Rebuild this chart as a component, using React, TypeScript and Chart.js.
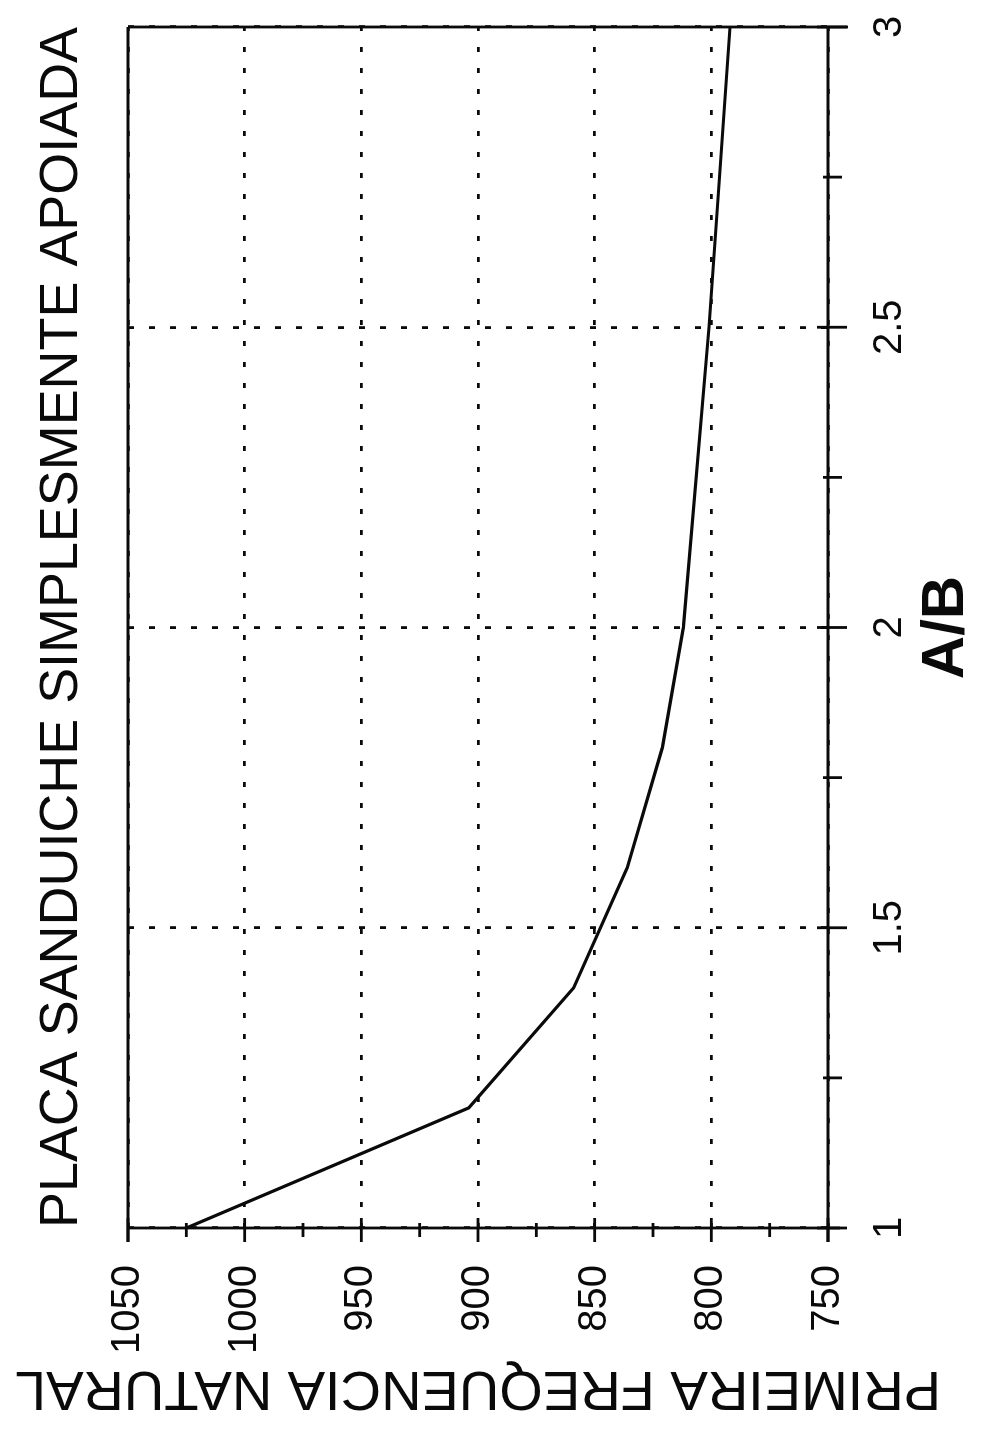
import React, { useEffect, useRef } from "react";
import { Chart, registerables } from "chart.js";

Chart.register(...registerables);

// ---- data ----
const TITLE = "PLACA SANDUICHE SIMPLESMENTE APOIADA";
const X_TITLE = "A/B";
const Y_TITLE = "PRIMEIRA FREQUENCIA NATURAL";
const abRatio = [1, 1.2, 1.4, 1.6, 1.8, 2, 2.5, 3];
const frequency = [1025, 904, 859, 836, 821, 812, 801, 792];
const xMajorTicks = [1, 1.5, 2, 2.5, 3];
const xMinorTicks = [1.25, 1.75, 2.25, 2.75];
const yMajorTicks = [750, 800, 850, 900, 950, 1000, 1050];
const yMinorTicks = [775, 825, 875, 925, 975, 1025];

// canvas drawn in the chart's own orientation, then turned a quarter turn
const W = 1438;
const H = 986;
const FONT = "'Liberation Sans', Arial, Helvetica, sans-serif";
const INK = "#0a0a0a";

const framePlugin = {
  id: "frame",
  afterDraw(chart: any) {
    const { ctx, chartArea, scales } = chart;
    const { left, right, top, bottom } = chartArea;
    const x = scales.x;
    const y = scales.y;
    ctx.save();
    ctx.strokeStyle = INK;
    ctx.lineWidth = 2.8;
    ctx.setLineDash([]);
    ctx.lineCap = "butt";
    const line = (x1: number, y1: number, x2: number, y2: number) => {
      ctx.beginPath();
      ctx.moveTo(x1, y1);
      ctx.lineTo(x2, y2);
      ctx.stroke();
    };
    line(left - 14, top, right, top);
    line(left - 14, bottom, right, bottom);
    line(left, top, left, bottom + 12);
    line(right, top, right, bottom + 20);
    for (const v of xMajorTicks) {
      const p = x.getPixelForValue(v);
      line(p, bottom - 11, p, bottom + 19);
    }
    for (const v of xMinorTicks) {
      const p = x.getPixelForValue(v);
      line(p, bottom - 5, p, bottom + 14);
    }
    for (const v of yMajorTicks) {
      const p = y.getPixelForValue(v);
      line(left - 14, p, left + 10, p);
    }
    for (const v of yMinorTicks) {
      const p = y.getPixelForValue(v);
      line(left - 9, p, left + 5, p);
    }
    ctx.restore();
  },
};

export default function App() {
  const canvasRef = useRef<HTMLCanvasElement | null>(null);

  useEffect(() => {
    const canvas = canvasRef.current;
    if (!canvas) return;
    const chart = new Chart(canvas, {
      type: "line",
      data: {
        datasets: [
          {
            data: abRatio.map((v, i) => ({ x: v, y: frequency[i] })),
            borderColor: INK,
            borderWidth: 3.2,
            pointRadius: 0,
            tension: 0,
            fill: false,
          },
        ],
      },
      options: {
        responsive: false,
        animation: false,
        devicePixelRatio: 1,
        layout: { padding: { left: 0, right: 27, top: 0, bottom: 0 } },
        plugins: {
          legend: { display: false },
          tooltip: { enabled: false },
          title: {
            display: true,
            text: TITLE,
            fullSize: false,
            color: INK,
            font: { family: FONT, size: 54, weight: "normal", lineHeight: 1 },
            padding: { top: 35, bottom: 39 },
          },
        },
        scales: {
          x: {
            type: "linear",
            min: 1,
            max: 3,
            afterFit: (s: any) => {
              s.height = 158;
              s.paddingLeft = 0;
              s.paddingRight = 0;
            },
            ticks: {
              stepSize: 0.5,
              color: INK,
              font: { family: FONT, size: 40, lineHeight: 1 },
              padding: 41.5,
              maxRotation: 0,
              autoSkip: false,
              callback: (v: any) => String(v),
            },
            grid: { drawTicks: false, color: INK, lineWidth: 2.8 },
            border: { display: false, dash: [6, 15] },
            title: {
              display: true,
              text: X_TITLE,
              color: INK,
              font: { family: FONT, size: 60, weight: "bold", lineHeight: 1 },
              padding: { top: 0, bottom: 9.5 },
            },
          },
          y: {
            type: "linear",
            min: 750,
            max: 1050,
            afterFit: (s: any) => {
              s.width = 210;
              s.paddingTop = 0;
              s.paddingBottom = 0;
            },
            ticks: {
              stepSize: 50,
              color: INK,
              font: { family: FONT, size: 40, lineHeight: 1 },
              padding: 37,
              callback: (v: any) => String(v),
            },
            grid: { drawTicks: false, color: INK, lineWidth: 2.8 },
            border: { display: false, dash: [5, 16] },
            title: {
              display: true,
              text: Y_TITLE,
              color: INK,
              font: { family: FONT, size: 56, lineHeight: 1 },
              padding: { top: 23, bottom: 0 },
            },
          },
        },
      } as any,
      plugins: [framePlugin],
    });
    return () => chart.destroy();
  }, []);

  return (
    <div
      style={{
        position: "fixed",
        left: 0,
        top: 0,
        width: H,
        height: W,
        overflow: "hidden",
        background: "#ffffff",
      }}
    >
      <div
        style={{
          position: "absolute",
          left: 0,
          top: 0,
          width: W,
          height: H,
          transformOrigin: "0 0",
          transform: `translateY(${W}px) rotate(-90deg)`,
        }}
      >
        <canvas
          ref={canvasRef}
          width={W}
          height={H}
          style={{ display: "block", width: W, height: H }}
        />
      </div>
    </div>
  );
}
